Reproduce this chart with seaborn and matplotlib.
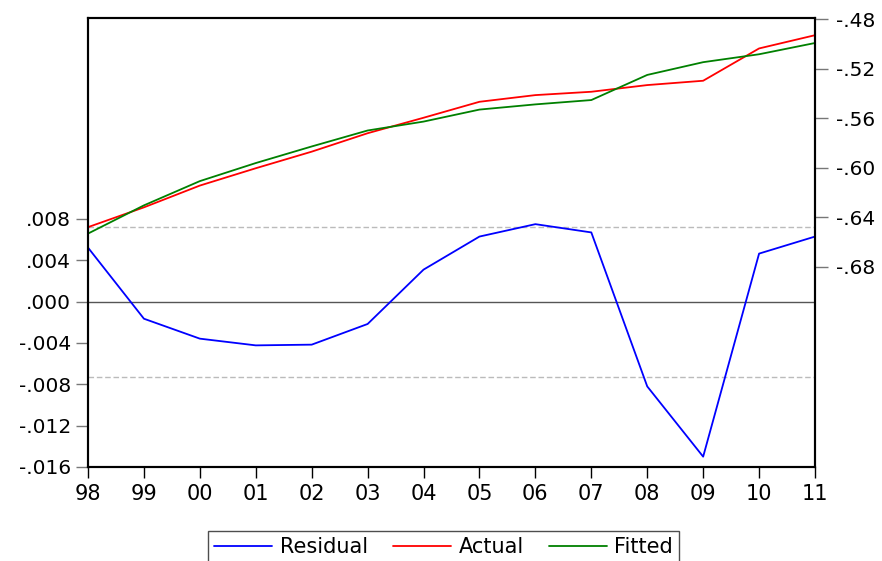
import matplotlib
matplotlib.use("Agg")
import matplotlib.pyplot as plt
import seaborn as sns
import pandas as pd

years = [1998, 1999, 2000, 2001, 2002, 2003, 2004, 2005, 2006, 2007, 2008, 2009, 2010, 2011]
year_labels = ["98", "99", "00", "01", "02", "03", "04", "05", "06", "07", "08", "09", "10", "11"]
residual = [0.00523, -0.00165, -0.00358, -0.00423, -0.00416, -0.00216, 0.0031, 0.0063,
            0.0075, 0.0067, -0.0082, -0.0150, 0.00465, 0.0063]
actual = [-0.648, -0.632, -0.6144, -0.6004, -0.587, -0.5721, -0.5596, -0.5467,
          -0.5413, -0.5386, -0.5332, -0.5297, -0.5036, -0.4929]
fitted = [-0.6532, -0.6304, -0.6108, -0.5962, -0.5828, -0.5699, -0.5627, -0.5530,
          -0.5488, -0.5453, -0.5250, -0.5147, -0.5083, -0.4992]
std_err = 0.00727
left_ticks = [-0.016, -0.012, -0.008, -0.004, 0.000, 0.004, 0.008]
left_labels = ["-.016", "-.012", "-.008", "-.004", ".000", ".004", ".008"]
right_ticks = [-0.68, -0.64, -0.60, -0.56, -0.52, -0.48]
right_labels = ["-.68", "-.64", "-.60", "-.56", "-.52", "-.48"]

sns.set_theme(style="white")
plt.rcParams['font.family'] = ['DejaVu Sans']
plt.rcParams['text.color'] = 'black'
plt.rcParams['xtick.labelcolor'] = 'black'
plt.rcParams['ytick.labelcolor'] = 'black'

df = pd.DataFrame({"year": years, "Residual": residual, "Actual": actual, "Fitted": fitted})

fig = plt.figure(figsize=(8.82, 5.61), dpi=100)
ax = fig.add_axes([88 / 882, 1 - 467 / 561, (815 - 88) / 882, (467 - 18) / 561])
ax2 = ax.twinx()

ax.axhline(0, color="#555555", lw=1.0, zorder=1)
ax.axhline(std_err, color="#bbbbbb", lw=1.0, ls=(0, (4, 2)), zorder=1)
ax.axhline(-std_err, color="#bbbbbb", lw=1.0, ls=(0, (4, 2)), zorder=1)

sns.lineplot(data=df, x="year", y="Residual", ax=ax, color="#0000ff", lw=1.3, label="Residual", legend=False)
sns.lineplot(data=df, x="year", y="Actual", ax=ax2, color="#ff0000", lw=1.3, label="Actual", legend=False)
sns.lineplot(data=df, x="year", y="Fitted", ax=ax2, color="#008000", lw=1.3, label="Fitted", legend=False)

ax.set_xlim(1998, 2011)
ax.set_ylim(-0.016, 0.02745)
ax2.set_ylim(-0.8418, -0.479)

ax.set_xticks(years)
ax.set_xticklabels(year_labels, fontsize=15, color="black")
ax.set_yticks(left_ticks)
ax.set_yticklabels(left_labels, fontsize=14.5, color="black")
ax2.set_yticks(right_ticks)
ax2.set_yticklabels(right_labels, fontsize=14.5, color="black")

ax.set_xlabel("")
ax.set_ylabel("")
ax2.set_ylabel("")

ax.tick_params(axis="x", direction="out", length=8, width=1, color="black", bottom=True, pad=4)
ax.tick_params(axis="y", direction="out", length=9, width=1, color="#777777", left=True, pad=3)
ax2.tick_params(axis="y", direction="out", length=9, width=1, color="#777777", right=True, pad=6)

for a in (ax, ax2):
    for s in a.spines.values():
        s.set_color("black")
        s.set_linewidth(1.5)
        s.set_visible(True)

handles = ax.get_lines()[3:] + ax2.get_lines()
labels = ["Residual", "Actual", "Fitted"]
leg = fig.legend(handles, labels, loc="upper center", ncol=3,
                 bbox_to_anchor=((207 + 680) / 2 / 882, 1 - 531 / 561),
                 fontsize=15, frameon=True, fancybox=False, edgecolor="#222222",
                 handlelength=2.8, handletextpad=0.35, columnspacing=1.2,
                 borderpad=0.3, borderaxespad=0)
leg.get_frame().set_linewidth(1.0)
for t in leg.get_texts():
    t.set_color("black")

fig.savefig("out.png", dpi=100)
